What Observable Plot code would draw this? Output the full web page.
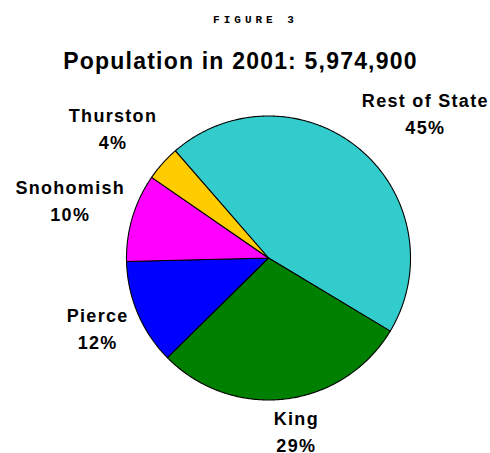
<!DOCTYPE html>
<html>
<head>
<meta charset="utf-8">
<script src="https://cdn.jsdelivr.net/npm/d3@7"></script>
<script src="https://cdn.jsdelivr.net/npm/@observablehq/plot@0.6"></script>
<style>
  html, body { margin: 0; padding: 0; background: #fff; }
  #chart svg { display: block; }
</style>
</head>
<body>
<div id="chart"></div>
<script>
// ---- data ----
const categories = ["Rest of State", "King", "Pierce", "Snohomish", "Thurston"];
const shares = [45, 29, 12, 10, 4];           // percent of population
const colors = ["#33CCCC", "#008000", "#0000FF", "#FF00FF", "#FFCC00"];
const figureLabel = "FIGURE 3";
const titleText = "Population in 2001: 5,974,900";

// ---- layout ----
const W = 490, H = 453;
const cx = 268, cy = 257.5, R = 142;      // pie centre / radius in px
const startAngle = -41;                   // degrees clockwise from 12 o'clock
const font = "'Liberation Sans', Arial, Helvetica, sans-serif";
const labelSize = 18, labelLS = 1.3, lineH = 1.5;

const total = d3.sum(shares);
const rad = d => d * Math.PI / 180;
const clamp = v => Math.max(-1, Math.min(1, v));

// slice polygons + outside-end labels
const slicePts = [];
const labels = [];
const ctx = document.createElement("canvas").getContext("2d");
ctx.font = `bold ${labelSize}px ${font}`;
let a0 = startAngle;
categories.forEach((name, i) => {
  const span = shares[i] / total * 360;
  const a1 = a0 + span;
  slicePts.push({name, x: 0, y: 0});
  const n = Math.max(2, Math.ceil(span / 0.5));
  for (let k = 0; k <= n; k++) {
    const a = rad(a0 + span * k / n);
    slicePts.push({name, x: Math.sin(a), y: Math.cos(a)});
  }
  const am = rad((a0 + a1) / 2);
  const s = Math.sin(am), c = Math.cos(am);
  const text = `${name}\n${shares[i]}%`;
  const w = d3.max(text.split("\n"), t => ctx.measureText(t).width + (t.length - 1) * labelLS);
  const anchorR = R + 14;
  const lx = anchorR * s + 0.9 * (w / 2) * clamp(4 * s);
  const ly = anchorR * c + 22 * clamp(1.5 * c) + 5;
  labels.push({text, x: lx / R, y: ly / R});
  a0 = a1;
});

const plot = Plot.plot({
  width: W,
  height: H,
  margin: 0,
  x: {domain: [-cx / R, (W - cx) / R], axis: null},
  y: {domain: [(cy - H) / R, cy / R], axis: null},
  color: {domain: categories, range: colors},
  style: {background: "#fff", color: "#000", overflow: "visible"},
  marks: [
    Plot.line(slicePts, {
      x: "x", y: "y", z: "name", fill: "name",
      stroke: "#000", strokeWidth: 1.1, strokeLinejoin: "round",
      curve: "linear-closed"
    }),
    Plot.text(labels, {
      x: "x", y: "y", text: "text",
      fontSize: labelSize, fontWeight: "bold", fontFamily: font,
      lineHeight: lineH, lineAnchor: "middle", fill: "#000"
    }),
    Plot.text([figureLabel], {
      frameAnchor: "top", dx: 10, dy: 22.5, lineAnchor: "bottom",
      fontSize: 11, fontWeight: "bold",
      fontFamily: "'Liberation Mono', 'Courier New', monospace",
      fill: "#000"
    }),
    Plot.text([titleText], {
      frameAnchor: "top", dx: -5, dy: 68.5, lineAnchor: "bottom",
      fontSize: 23, fontWeight: "bold", fontFamily: font,
      fill: "#000"
    })
  ]
});

plot.querySelectorAll("text").forEach(t => {
  const s = t.textContent;
  if (s === titleText) t.style.letterSpacing = "1.2px";
  else if (s === figureLabel) t.style.letterSpacing = "4px";
  else if (categories.some(c => s.startsWith(c))) t.style.letterSpacing = labelLS + "px";
});

document.getElementById("chart").appendChild(plot);
</script>
</body>
</html>
